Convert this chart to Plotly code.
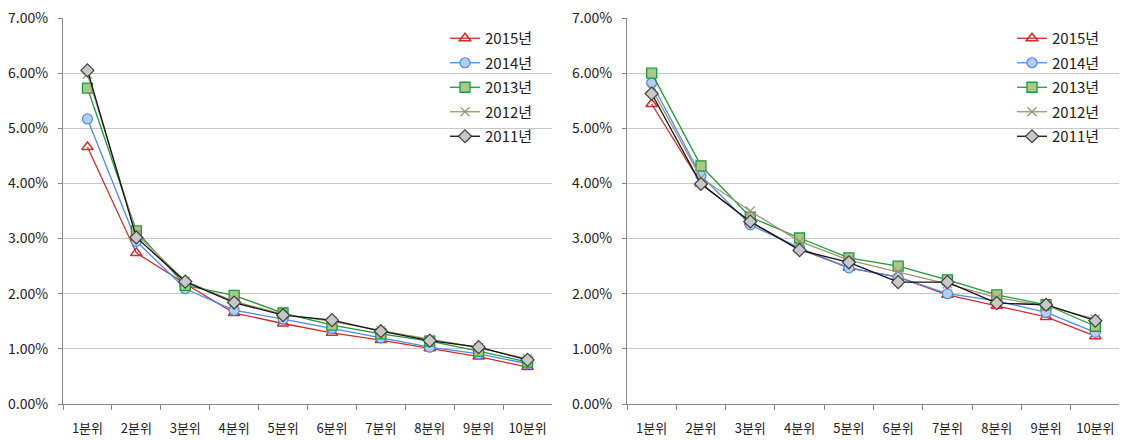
import plotly.graph_objects as go
from plotly.subplots import make_subplots

categories = ["1분위", "2분위", "3분위", "4분위", "5분위", "6분위", "7분위", "8분위", "9분위", "10분위"]
series_names = ["2015년", "2014년", "2013년", "2012년", "2011년"]

left_2015 = [4.66, 2.74, 2.18, 1.65, 1.46, 1.29, 1.16, 1.01, 0.86, 0.67]
left_2014 = [5.17, 2.95, 2.09, 1.70, 1.54, 1.37, 1.20, 1.03, 0.91, 0.73]
left_2013 = [5.73, 3.14, 2.15, 1.97, 1.65, 1.43, 1.27, 1.14, 0.96, 0.76]
left_2012 = [5.98, 3.08, 2.23, 1.86, 1.63, 1.50, 1.33, 1.17, 1.02, 0.82]
left_2011 = [6.05, 3.02, 2.22, 1.84, 1.61, 1.52, 1.32, 1.15, 1.03, 0.80]

right_2015 = [5.44, 4.00, 3.30, 2.81, 2.47, 2.30, 1.98, 1.78, 1.58, 1.23]
right_2014 = [5.82, 4.14, 3.25, 2.83, 2.47, 2.30, 2.00, 1.87, 1.66, 1.30]
right_2013 = [6.00, 4.32, 3.39, 3.01, 2.65, 2.50, 2.25, 1.98, 1.80, 1.41]
right_2012 = [5.72, 4.10, 3.50, 2.95, 2.61, 2.40, 2.18, 1.93, 1.78, 1.54]
right_2011 = [5.63, 3.99, 3.31, 2.79, 2.57, 2.21, 2.21, 1.83, 1.80, 1.51]

y_ticks = [0, 1, 2, 3, 4, 5, 6, 7]
y_tick_labels = ["0.00%", "1.00%", "2.00%", "3.00%", "4.00%", "5.00%", "6.00%", "7.00%"]

styles = [
    dict(line=dict(color="#D42A2A", width=1.3),
         marker=dict(symbol="triangle-up", size=10, color="rgba(255,255,255,0)",
                     line=dict(color="#D42A2A", width=1.5))),
    dict(line=dict(color="#4A8CF0", width=1.3),
         marker=dict(symbol="circle", size=10, color="#B4CEF2",
                     line=dict(color="#4A8CF0", width=1.2))),
    dict(line=dict(color="#1E9A3C", width=1.3),
         marker=dict(symbol="square", size=10, color="#B0C58A",
                     line=dict(color="#1E9A3C", width=1.3))),
    dict(line=dict(color="#A09570", width=1.3),
         marker=dict(symbol="x-thin-open", size=9, color="#A09570",
                     line=dict(color="#A09570", width=1.2))),
    dict(line=dict(color="#111111", width=1.3),
         marker=dict(symbol="diamond", size=10, color="#C8C8C8",
                     line=dict(color="#404040", width=1.2))),
]

left_data = [left_2015, left_2014, left_2013, left_2012, left_2011]
right_data = [right_2015, right_2014, right_2013, right_2012, right_2011]

fig = make_subplots(rows=1, cols=2)

for i, name in enumerate(series_names):
    fig.add_trace(go.Scatter(x=categories, y=left_data[i], name=name, mode="lines+markers",
                             legend="legend", legendgroup="L" + name, **styles[i]), row=1, col=1)
for i, name in enumerate(series_names):
    fig.add_trace(go.Scatter(x=categories, y=right_data[i], name=name, mode="lines+markers",
                             legend="legend2", legendgroup="R" + name, **styles[i]), row=1, col=2)

font_family = "Noto Sans CJK KR"
# the page body has an 8px default margin, so the figure is 8px smaller and offset
OFF = 8
W, H = 1127 - OFF, 440 - OFF


def fx(px):
    return (px - OFF) / W


def fy(py):
    return (H - (py - OFF)) / H


ydom = [fy(404), fy(17.9)]

xaxis_common = dict(type="category", tickson="boundaries", ticks="outside", ticklen=5,
                    tickcolor="#888888", showline=True, linecolor="#888888", linewidth=1,
                    showgrid=False, range=[-0.5, 9.5], automargin=False,
                    ticklabelstandoff=12,
                    tickfont=dict(family=font_family, size=13, color="#222222"))
yaxis_common = dict(range=[0, 7.002], tickvals=y_ticks, ticktext=y_tick_labels, ticks="outside",
                    ticklen=4, tickcolor="#888888", showline=True, linecolor="#888888",
                    linewidth=1, showgrid=True, gridcolor="#C8C8C8", gridwidth=1,
                    zeroline=False, domain=ydom, automargin=False,
                    ticklabelstandoff=7, ticklabeloverflow="allow",
                    tickfont=dict(family=font_family, size=14, color="#222222"))

legend_common = dict(xanchor="left", yanchor="top", bgcolor="rgba(0,0,0,0)",
                     font=dict(family=font_family, size=15, color="#222222"),
                     tracegroupgap=2, itemwidth=30)

fig.update_layout(
    width=W, height=H,
    margin=dict(l=0, r=0, t=0, b=0, autoexpand=False),
    paper_bgcolor="white", plot_bgcolor="white",
    font=dict(family=font_family, color="#222222"),
    xaxis=dict(domain=[fx(63), fx(552)], **xaxis_common),
    xaxis2=dict(domain=[fx(627), fx(1120)], **xaxis_common),
    yaxis=yaxis_common,
    yaxis2=yaxis_common,
    legend=dict(x=fx(445), y=fy(22), **legend_common),
    legend2=dict(x=fx(1012), y=fy(22), **legend_common),
)

fig.write_html("out.html")
